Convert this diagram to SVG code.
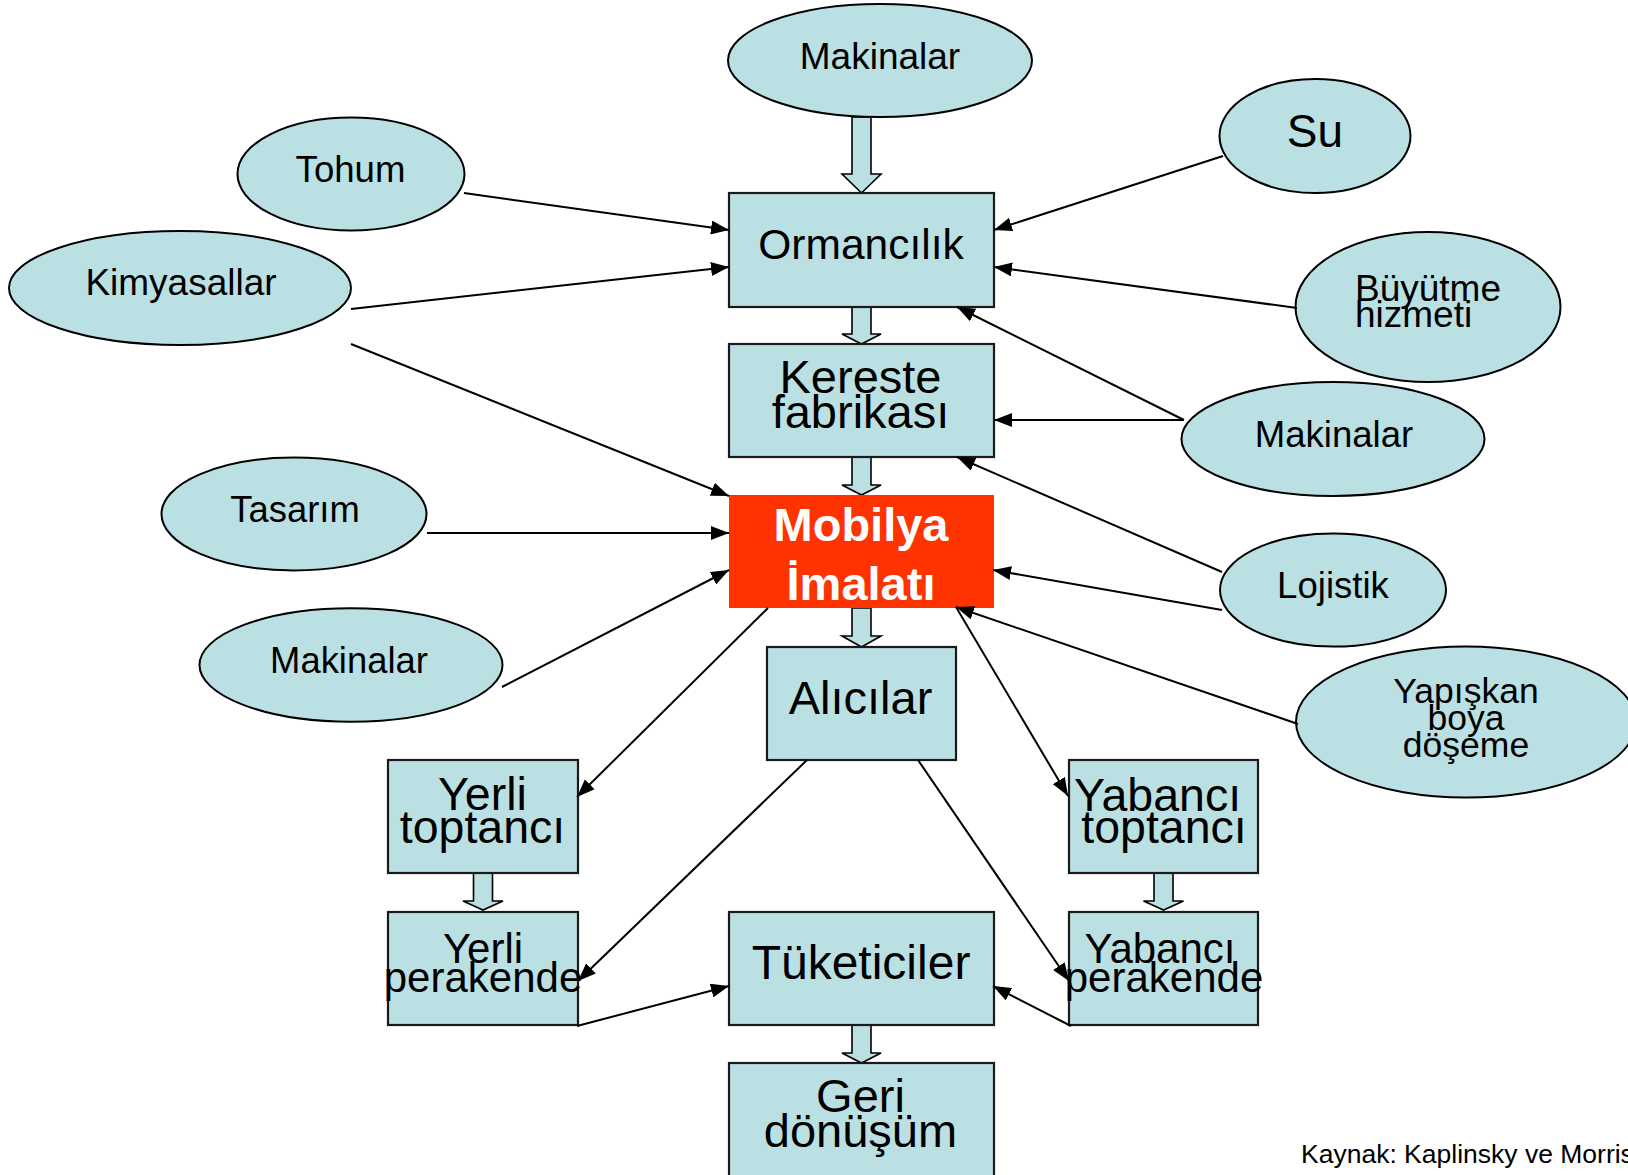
<svg xmlns="http://www.w3.org/2000/svg" width="1628" height="1175" viewBox="0 0 1628 1175">
<defs>
<marker id="ah" markerUnits="userSpaceOnUse" markerWidth="18" markerHeight="14" viewBox="0 0 18 14" refX="18" refY="7" orient="auto"><path d="M0,0 L18,7 L0,14 z" fill="#000"/></marker>
<style>
.el{fill:#BBE0E3;stroke:#000;stroke-width:2}
.bx{fill:#BBE0E3;stroke:#1a1a1a;stroke-width:2.2}
.ba{fill:#BBE0E3;stroke:#000;stroke-width:1.6;stroke-linejoin:miter}
.t{font-family:"Liberation Sans",Arial,sans-serif;fill:#000;text-anchor:middle}
.ln{stroke:#000;stroke-width:2;fill:none;marker-end:url(#ah)}
</style>
</defs>
<rect width="1628" height="1175" fill="#fff"/>

<g id="blockarrows">
<polygon class="ba" points="852,117 871,117 871,174 881,174 861.5,193 842,174 852,174"/>
<polygon class="ba" points="852,307 871,307 871,334 881,334 861.5,344 842,334 852,334"/>
<polygon class="ba" points="852,457 871,457 871,485 881,485 861.5,495 842,485 852,485"/>
<polygon class="ba" points="852,608 871,608 871,636 881,636 861.5,647 842,636 852,636"/>
<polygon class="ba" points="473.5,873 492.5,873 492.5,901 503,901 483,910 463,901 473.5,901"/>
<polygon class="ba" points="1154,873 1173,873 1173,901 1183.5,901 1163.5,910 1143.5,901 1154,901"/>
<polygon class="ba" points="852,1025 871,1025 871,1053 881,1053 861.5,1063 842,1053 852,1053"/>
</g>

<g id="n-makinalar-top"><ellipse class="el" cx="880" cy="60.5" rx="152" ry="56.5"/><text class="t" x="880" y="69" font-size="37">Makinalar</text></g>
<g id="n-tohum"><ellipse class="el" cx="351" cy="174" rx="113.5" ry="56.5"/><text class="t" x="350.5" y="182" font-size="36.6">Tohum</text></g>
<g id="n-kimyasallar"><ellipse class="el" cx="180" cy="288" rx="171" ry="57"/><text class="t" x="181" y="295" font-size="37">Kimyasallar</text></g>
<g id="n-tasarim"><ellipse class="el" cx="294" cy="514" rx="132.5" ry="56.5"/><text class="t" x="295" y="522" font-size="36.4">Tasarım</text></g>
<g id="n-makinalar-left"><ellipse class="el" cx="351" cy="665" rx="151.5" ry="56.7"/><text class="t" x="349" y="673" font-size="36.4">Makinalar</text></g>
<g id="n-su"><ellipse class="el" cx="1315" cy="136" rx="95.5" ry="57"/><text class="t" x="1315" y="147" font-size="46">Su</text></g>
<g id="n-buyutme"><ellipse class="el" cx="1428" cy="307" rx="132.5" ry="75"/><text x="1355" y="301" font-size="37" font-family="Liberation Sans, Arial, sans-serif">Büyütme</text><text x="1355" y="327" font-size="37" font-family="Liberation Sans, Arial, sans-serif">hizmeti</text></g>
<g id="n-makinalar-right"><ellipse class="el" cx="1333" cy="439" rx="151.5" ry="57"/><text class="t" x="1334" y="447" font-size="36.6">Makinalar</text></g>
<g id="n-lojistik"><ellipse class="el" cx="1333" cy="590" rx="113" ry="56.6"/><text class="t" x="1333" y="598" font-size="36.6">Lojistik</text></g>
<g id="n-yapiskan"><ellipse class="el" cx="1466" cy="722" rx="170" ry="75.5"/><text class="t" x="1466" y="703" font-size="35.5">Yapışkan</text><text class="t" x="1466" y="730" font-size="35.5">boya</text><text class="t" x="1466" y="757" font-size="35.5">döşeme</text></g>

<g id="n-ormancilik"><rect class="bx" x="729" y="193" width="265" height="114"/><text class="t" x="861" y="259" font-size="42.5">Ormancılık</text></g>
<g id="n-kereste"><rect class="bx" x="729" y="344" width="265" height="113"/><text class="t" x="860.5" y="393" font-size="47">Kereste</text><text class="t" x="860.5" y="428" font-size="47">fabrikası</text></g>
<g id="n-mobilya"><rect x="729" y="495" width="265" height="113" fill="#FF3300"/><text class="t" x="861" y="541" font-size="47" font-weight="bold" style="fill:#fff">Mobilya</text><text class="t" x="861" y="600" font-size="47" font-weight="bold" style="fill:#fff">İmalatı</text></g>
<g id="n-alicilar"><rect class="bx" x="767" y="647" width="189" height="113"/><text class="t" x="860.5" y="714" font-size="47">Alıcılar</text></g>
<g id="n-yerli-toptanci"><rect class="bx" x="388" y="760" width="190" height="113"/><text class="t" x="482.5" y="810" font-size="46.5">Yerli</text><text class="t" x="482.5" y="843" font-size="46.5">toptancı</text></g>
<g id="n-yerli-perakende"><rect class="bx" x="388" y="912" width="190" height="113"/><text class="t" x="483" y="963" font-size="42">Yerli</text><text class="t" x="483" y="992" font-size="42">perakende</text></g>
<g id="n-tuketiciler"><rect class="bx" x="729" y="912" width="265" height="113"/><text class="t" x="861" y="979" font-size="48">Tüketiciler</text></g>
<g id="n-yabanci-toptanci"><rect class="bx" x="1069" y="760" width="189" height="113"/><text class="t" x="1157.5" y="811" font-size="46.5">Yabancı</text><text class="t" x="1164" y="843" font-size="46.5">toptancı</text></g>
<g id="n-yabanci-perakende"><rect class="bx" x="1069" y="912" width="189" height="113"/><text class="t" x="1160" y="963" font-size="42">Yabancı</text><text class="t" x="1164" y="992" font-size="42">perakende</text></g>
<g id="n-geri"><rect class="bx" x="729" y="1063" width="265" height="130"/><text class="t" x="860.5" y="1112" font-size="47">Geri</text><text class="t" x="860.5" y="1147" font-size="47">dönüşüm</text></g>

<g id="connectors">
<line class="ln" x1="464" y1="193" x2="729" y2="230"/>
<line class="ln" x1="351" y1="309" x2="729" y2="267"/>
<line class="ln" x1="351" y1="344" x2="729" y2="496"/>
<line class="ln" x1="427" y1="533" x2="729" y2="533"/>
<line class="ln" x1="502" y1="687" x2="729" y2="570"/>
<line class="ln" x1="1223" y1="156" x2="994" y2="230"/>
<line class="ln" x1="1297" y1="308" x2="994" y2="267"/>
<line class="ln" x1="1184" y1="420" x2="957" y2="307"/>
<line class="ln" x1="1184" y1="420" x2="994" y2="420"/>
<line class="ln" x1="1222" y1="572" x2="957" y2="457"/>
<line class="ln" x1="1222" y1="610" x2="993" y2="570"/>
<line class="ln" x1="1298" y1="724" x2="956" y2="607"/>
<line class="ln" x1="956" y1="607" x2="1068" y2="796"/>
<line class="ln" x1="768" y1="608" x2="577" y2="797"/>
<line class="ln" x1="807" y1="760" x2="578" y2="981"/>
<line class="ln" x1="918" y1="760" x2="1069" y2="981"/>
<line class="ln" x1="577" y1="1026" x2="729" y2="986"/>
<line class="ln" x1="1071" y1="1026" x2="993" y2="986"/>
</g>

<text x="1301" y="1163" font-size="26.5" font-family="Liberation Sans, Arial, sans-serif">Kaynak: Kaplinsky ve Morris</text>
</svg>
